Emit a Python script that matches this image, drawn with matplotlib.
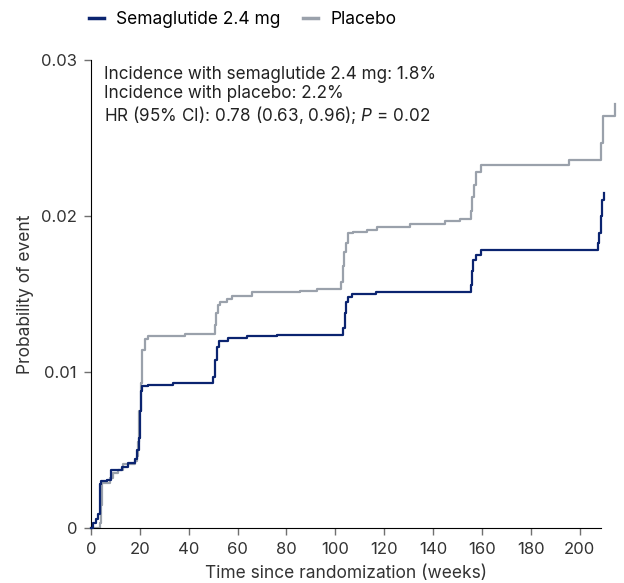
import numpy as np
import matplotlib
matplotlib.use('Agg')
import matplotlib.pyplot as plt

plt.rcParams['font.family'] = ['Inter', 'DejaVu Sans']
plt.rcParams['mathtext.fontset'] = 'custom'
plt.rcParams['mathtext.rm'] = 'Inter'
plt.rcParams['mathtext.it'] = 'Inter:italic'

# Kaplan-Meier style cumulative incidence (weeks, probability)
sema_weeks = [0, 1, 2, 3, 3.8, 4.2, 6.4, 8.0, 12.5, 15.3, 18.0, 18.8, 19.5, 20.0, 20.5,
              21.0, 23.5, 33.7, 50.0, 50.8, 51.5, 52.5, 56.0, 63.7, 76.0, 103.2, 103.8,
              104.5, 105.2, 106.6, 116.8, 155.3, 155.8, 156.5, 157.7, 159.5, 207.4,
              207.8, 208.5, 209.3, 210.0]
sema_prob = [0, 0.0003, 0.0006, 0.0009, 0.0028, 0.0030, 0.0031, 0.0037, 0.0039, 0.0042,
             0.0044, 0.0050, 0.0058, 0.0075, 0.0088, 0.0091, 0.0092, 0.0093, 0.0097,
             0.0108, 0.0116, 0.0120, 0.0122, 0.0123, 0.0124, 0.0128, 0.0138, 0.0145,
             0.0148, 0.0150, 0.0151, 0.0156, 0.0165, 0.0172, 0.0175, 0.0178, 0.0183,
             0.0189, 0.0200, 0.0210, 0.0215]

placebo_weeks = [0, 3.7, 4.0, 4.4, 7.8, 9.0, 11.2, 13.2, 18.0, 18.7, 19.3, 19.8, 20.3,
                 21.0, 22.0, 23.5, 38.4, 50.7, 51.3, 52.0, 52.8, 55.5, 57.5, 65.7, 85.5,
                 92.3, 102.5, 103.0, 103.6, 104.3, 105.0, 107.3, 113.0, 117.0, 130.5,
                 145.0, 151.0, 155.3, 155.9, 156.6, 157.5, 159.5, 195.7, 208.5, 209.5,
                 214.5]
placebo_prob = [0, 0.0003, 0.0015, 0.0029, 0.0032, 0.0035, 0.0037, 0.0041, 0.0043, 0.0046,
                0.0055, 0.0075, 0.0093, 0.0114, 0.0121, 0.0123, 0.01245, 0.0130, 0.0138,
                0.0143, 0.0145, 0.0147, 0.0149, 0.0151, 0.0152, 0.0153, 0.0158, 0.0168,
                0.0177, 0.0183, 0.0189, 0.0190, 0.0191, 0.0193, 0.0195, 0.0197, 0.0198,
                0.0203, 0.0212, 0.0220, 0.0228, 0.0233, 0.0236, 0.0247, 0.0264, 0.0272]

x_ticks = list(range(0, 201, 20))
y_ticks = [0, 0.01, 0.02, 0.03]
y_tick_labels = ['0', '0.01', '0.02', '0.03']

sema_color = '#0b2470'
placebo_color = '#9aa1ab'

fig = plt.figure(figsize=(6.24, 5.83), dpi=100)
ax = fig.add_axes([0.1458, 0.0943, 0.817, 0.8027])

ax.step(placebo_weeks, placebo_prob, where='post', color=placebo_color, lw=1.6,
        label='Placebo', clip_on=False, zorder=2)
ax.step(sema_weeks, sema_prob, where='post', color=sema_color, lw=1.6,
        label='Semaglutide 2.4 mg', clip_on=False, zorder=3)

ax.set_xlim(0, 208.6)
ax.set_ylim(0, 0.03)
ax.set_xticks(x_ticks)
ax.set_yticks(y_ticks)
ax.set_yticklabels(y_tick_labels)
ax.spines['top'].set_visible(False)
ax.spines['right'].set_visible(False)
ax.spines['left'].set_bounds(0, 0.03)
ax.tick_params(axis='both', length=5, width=1, color='#707070', labelsize=12,
               labelcolor='#333333', pad=5)
ax.tick_params(axis='y', pad=5)

ax.set_xlabel('Time since randomization (weeks)', fontsize=12.5, color='#333333', labelpad=5.5)
ax.set_ylabel('Probability of event', fontsize=12.5, color='#333333', labelpad=5)

ax.text(0.025, 0.988,
        'Incidence with semaglutide 2.4 mg: 1.8%\n'
        'Incidence with placebo: 2.2%\n'
        'HR (95% CI): 0.78 (0.63, 0.96); $P$ = 0.02',
        transform=ax.transAxes, va='top', ha='left', fontsize=12.3,
        color='#222222', linespacing=1.15)

handles, labels = ax.get_legend_handles_labels()
leg = fig.legend(handles[::-1], labels[::-1], ncol=2, frameon=False, fontsize=12.5,
                 loc='center left', bbox_to_anchor=(0.118, 0.967),
                 handlelength=0.85, handletextpad=0.7, columnspacing=1.3)
for line in leg.get_lines():
    line.set_linewidth(2.5)

fig.savefig('out.png', dpi=100)
